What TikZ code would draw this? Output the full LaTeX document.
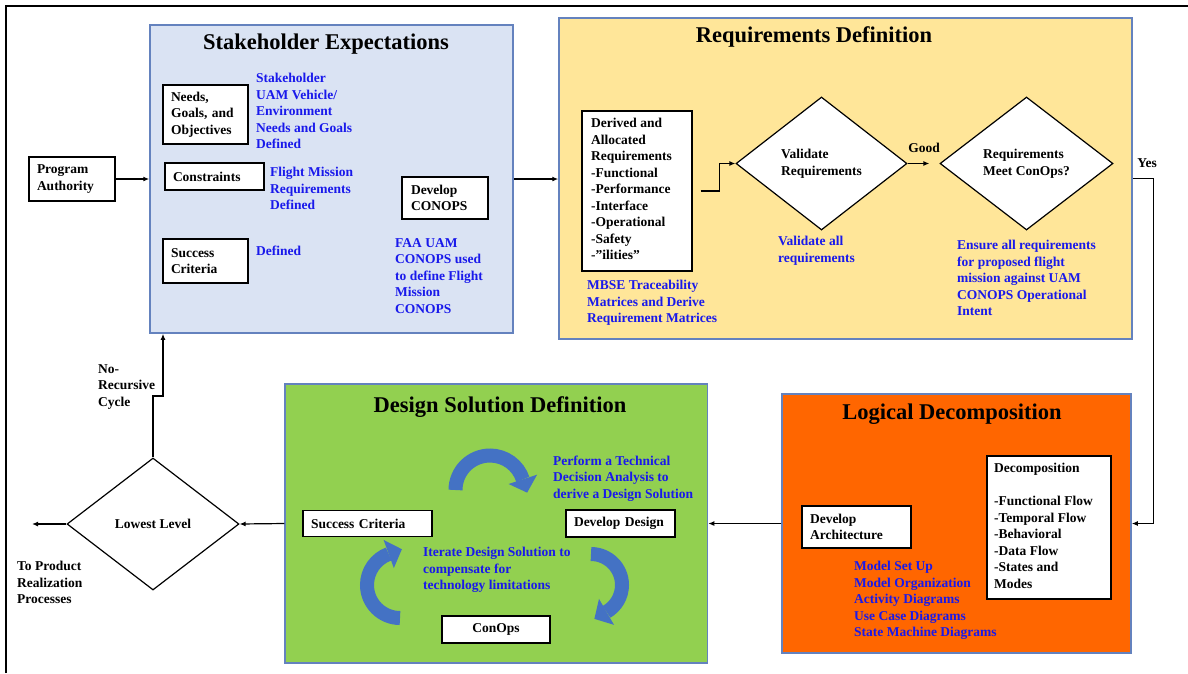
\documentclass[tikz,border=0pt]{standalone}
\usepackage{fontspec}
\setmainfont{Liberation Serif}
\usetikzlibrary{shapes.geometric,arrows.meta,calc}
\definecolor{seFill}{HTML}{DAE3F3}
\definecolor{rdFill}{HTML}{FFE699}
\definecolor{dsFill}{HTML}{92D050}
\definecolor{ldFill}{HTML}{FF6600}
\definecolor{frameBlue}{RGB}{100,130,190}
\definecolor{txtBlue}{RGB}{25,25,235}
\definecolor{arcBlue}{HTML}{4472C4}
\newcommand\bodyfont{\fontsize{13.5}{16.5}\selectfont\bfseries}
\newcommand\titlefont{\fontsize{22.5}{26}\selectfont\bfseries}
% block arc: centre x, centre y, radius, start angle, end angle (clockwise)
\newcommand\blockarc[5]{%
  \pgfmathsetmacro\baRo{#3+15}%
  \pgfmathsetmacro\baRi{#3-15}%
  \pgfmathsetmacro\baTa{#5-90}%
  \draw[draw=arcBlue, line width=14pt] ($(#1,#2)+(#4:#3)$) arc[start angle=#4, end angle=#5, radius=#3pt];
  \fill[arcBlue] ($(#1,#2)+(#5:\baRo)$) -- ($(#1,#2)+(#5:\baRi)$) -- ($(#1,#2)+(#5:#3)+(\baTa:14)$) -- cycle;
}
\begin{document}
\begin{tikzpicture}[x=1pt,y=1pt,
  bigbox/.style={draw=frameBlue, line width=1.5pt, inner sep=0pt},
  wbox/.style={draw=black, fill=white, line width=1.3pt, inner xsep=8pt, inner ysep=0pt, align=left, font=\bodyfont},
  plainbox/.style={draw=black, fill=white, line width=1.3pt, inner sep=0pt},
  ttl/.style={font=\titlefont, inner sep=0pt},
  note/.style={font=\bodyfont, text=txtBlue, align=left, anchor=north west, inner sep=0pt},
  lbl/.style={font=\bodyfont, align=left, anchor=north west, inner sep=0pt},
  dia/.style={diamond, draw=black, fill=white, line width=1.2pt, inner sep=0pt, align=left, font=\bodyfont},
  conn/.style={draw=black, line width=1.2pt, -{Latex[length=6pt,width=5pt]}}
]
\useasboundingbox (0,-673) rectangle (1188,0);
\fill[white] (0,-673) rectangle (1188,0);
\draw[line width=2.2pt] (6,-673) -- (6,-6) -- (1188,-6);

% big stage boxes
\node[bigbox, fill=seFill, minimum width=363, minimum height=308] (se) at (331.5,-179) {};
\node[bigbox, fill=rdFill, minimum width=573, minimum height=321] (rd) at (845.5,-178.5) {};
\node[bigbox, fill=dsFill, minimum width=422.5, minimum height=279] (ds) at (496.25,-523.5) {};
\node[bigbox, fill=ldFill, minimum width=349, minimum height=259] (ld) at (956.5,-523.5) {};

% titles
\node[ttl] (set) at (326,-44) {Stakeholder Expectations};
\node[ttl] (rdt) at (814,-37) {Requirements Definition};
\node[ttl] (dst) at (500,-407) {Design Solution Definition};
\node[ttl] (ldt) at (952,-414) {Logical Decomposition};

% white boxes
\node[wbox, minimum width=86, minimum height=44, text width=70] (pa) at (72,-179) {Program\\Authority};
\node[wbox, minimum width=85, minimum height=59, text width=69] (needs) at (205.5,-114.5) {Needs,\\Goals, and\\Objectives};
\node[wbox, minimum width=99, minimum height=27, text width=83] (cons) at (214.5,-176.5) {Constraints};
\node[wbox, minimum width=85, minimum height=44, text width=69] (sc) at (205.5,-261) {Success\\Criteria};
\node[wbox, inner xsep=9pt, minimum width=86, minimum height=42, text width=68] (dc) at (445,-198) {Develop\\CONOPS};

\node[plainbox, minimum width=110, minimum height=160] (dab) at (637,-191) {};
\node[lbl] (dabt) at (591,-118.3) {Derived and\\Allocated\\Requirements\\-Functional\\-Performance\\-Interface\\-Operational\\-Safety\\-''ilities''};

\node[wbox, minimum width=129, minimum height=26, text width=113] (ssc) at (367.5,-523.5) {Success Criteria};
\node[wbox, minimum width=109, minimum height=27, text width=93] (dd) at (620.5,-523.5) {Develop Design};
\node[wbox, align=center, minimum width=108, minimum height=27, text width=92] (co) at (496,-629.5) {ConOps};
\node[wbox, minimum width=109, minimum height=42, text width=93] (darch) at (856.5,-527) {Develop\\Architecture};
\node[plainbox, minimum width=124, minimum height=143] (dec) at (1049,-527.5) {};
\node[lbl] (dect) at (994,-463.3) {Decomposition\\[16.5pt]-Functional Flow\\-Temporal Flow\\-Behavioral\\-Data Flow\\-States and\\Modes};

% diamonds
\node[dia, minimum width=171, minimum height=133] (vr) at (821.5,-163.5) {Validate\\Requirements};
\node[dia, minimum width=173, minimum height=133] (rm) at (1026.5,-163.5) {Requirements\\Meet ConOps?};
\node[dia, minimum width=172, minimum height=132] (ll) at (153,-524) {Lowest Level};

% blue notes
\node[note] (sh1) at (256,-73.3) {Stakeholder\\UAM Vehicle/\\Environment\\Needs and Goals\\Defined};
\node[note] (sh2) at (270,-167.3) {Flight Mission\\Requirements\\Defined};
\node[note] (sh3) at (256,-245.3) {Defined};
\node[note] (sh4) at (395,-238.3) {FAA UAM\\CONOPS used\\to define Flight\\Mission\\CONOPS};
\node[note] (rd1) at (587,-280.3) {MBSE Traceability\\Matrices and Derive\\Requirement Matrices};
\node[note] (rd2) at (778,-236.3) {Validate all\\requirements};
\node[note] (rd3) at (957,-240.3) {Ensure all requirements\\for proposed flight\\mission against UAM\\CONOPS Operational\\Intent};
\node[note] (ds1) at (553,-455.3) {Perform a Technical\\Decision Analysis to\\derive a Design Solution};
\node[note] (ds2) at (423,-547.3) {Iterate Design Solution to\\compensate for\\technology limitations};
\node[note] (ld1) at (854,-561.3) {Model Set Up\\Model Organization\\Activity Diagrams\\Use Case Diagrams\\State Machine Diagrams};

% black labels
\node[font=\bodyfont, inner sep=0pt] (good) at (924,-148) {Good};
\node[font=\bodyfont, inner sep=0pt] (yes) at (1147,-163) {Yes};
\node[lbl] (norec) at (98,-364.3) {No-\\Recursive\\Cycle};
\node[lbl] (toprod) at (17,-561.3) {To Product\\Realization\\Processes};

% iteration arrows
\blockarc{490}{-490}{34.5}{180}{18}
\blockarc{400}{-585}{33}{270}{110}
\blockarc{591}{-585}{31}{90}{-60}

% connectors
\coordinate (exit) at (32,-524);
\coordinate (jog) at (163,-396);
\draw[conn] (pa.east) -- (se.west |- pa.east);
\draw[conn] (se.east) -- (rd.west |- se.east);
\draw[conn] ([xshift=8pt]dab.east) -- ++(19,0) |- (vr.west);
\draw[conn] (vr.east) -- ([xshift=-10pt]rm.west);
\draw[conn] (rd.east) -- ++(21,0) |- (ld.east);
\draw[conn] (ld.west) -- (ds.east |- ld.west);
\draw[conn] (ds.west) -- (ll.east);
\draw[conn] (ll.west) -- (exit);
\draw[conn] (ll.north) |- (jog) -- (jog |- se.south);
\end{tikzpicture}
\end{document}
